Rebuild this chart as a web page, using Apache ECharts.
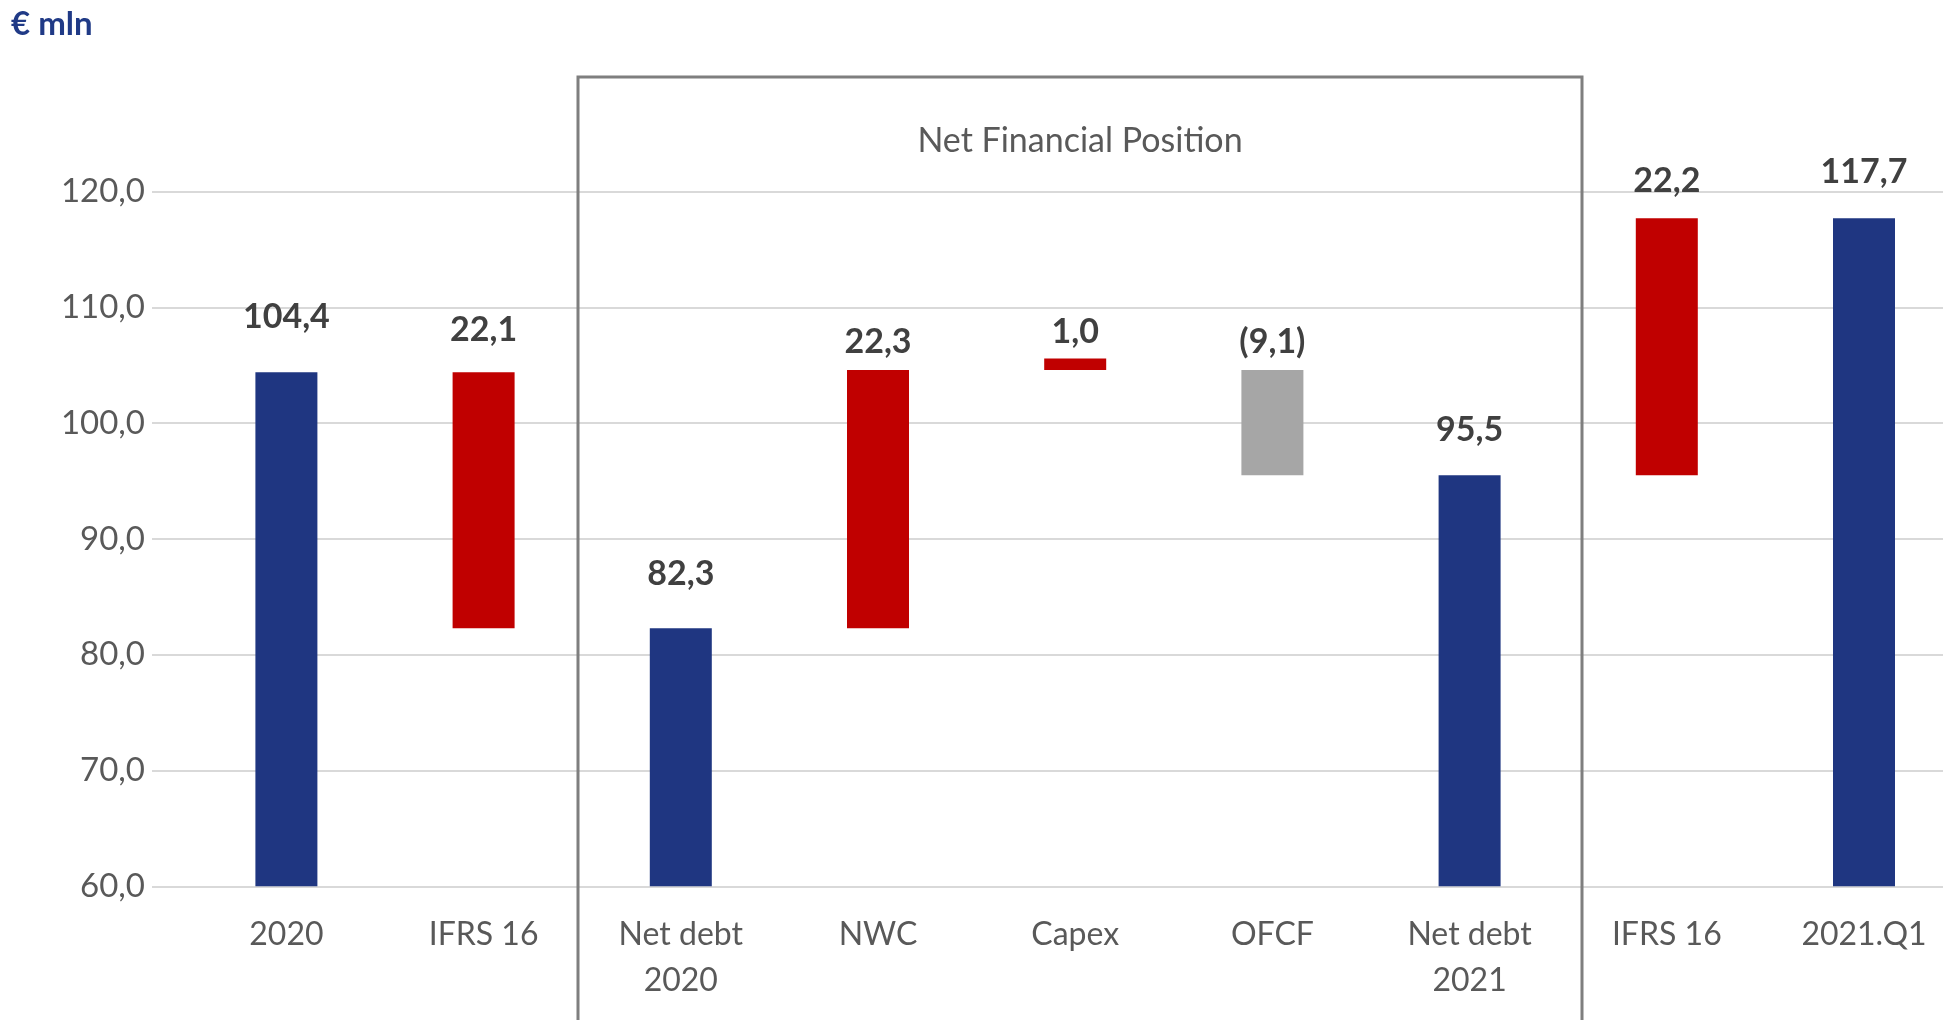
<!DOCTYPE html>
<html>
<head>
<meta charset="utf-8">
<script src="https://cdn.jsdelivr.net/npm/echarts@6/dist/echarts.min.js"></script>
<style>
  html, body { margin: 0; padding: 0; background: #fff; }
  #chart { width: 1943px; height: 1020px; }
</style>
</head>
<body>
<div id="chart"></div>
<script>
// categories of the bridge
const categories = ['2020', 'IFRS 16', 'Net debt\n2020', 'NWC', 'Capex', 'OFCF', 'Net debt\n2021', 'IFRS 16', '2021.Q1']
// label values shown above the bars (negative = shown in brackets)
const values = [104.4, 22.1, 82.3, 22.3, 1.0, -9.1, 95.5, 22.2, 117.7]
// floor and top of every floating bar
const barBase = [0, 82.3, 0, 82.3, 104.6, 95.5, 0, 95.5, 0]
const barTop = [104.4, 104.4, 82.3, 104.6, 105.6, 104.6, 95.5, 117.7, 117.7]
// bar type: total / plus / minus
const kinds = ['total', 'plus', 'total', 'plus', 'plus', 'minus', 'total', 'plus', 'total']
const yTicks = [60, 120, 10]

const kindColor = { total: '#1f3681', plus: '#c00000', minus: '#a6a6a6' }
// distance of each value label from its bar top
const labelGap = [38, 25, 37, 11, 9, 11, 28, 20, 29]
const font = 'Lato'

function fmt (v) {
  const s = Math.abs(v).toFixed(1).replace('.', ',')
  return v < 0 ? '(' + s + ')' : s
}

function genOption () {
  const gridTop = 191.7
  const gridHeight = 694.6
  return {
    backgroundColor: '#fff',
    animation: false,
    title: {
      text: '€ mln',
      left: 11,
      top: 8,
      padding: 0,
      textStyle: { fontFamily: font, fontSize: 33, fontWeight: 'bold', color: '#203a86' }
    },
    grid: [
      // grid only for the value axis and its grid lines
      { left: 152, right: 0, top: gridTop, height: gridHeight, outerBoundsMode: 'none' },
      // grid holding the bars (runs a little past the right edge)
      { left: 187.8, width: 1774.8, top: gridTop, height: gridHeight, outerBoundsMode: 'none' }
    ],
    xAxis: [
      { gridIndex: 0, type: 'value', min: 0, max: 1, show: false },
      {
        gridIndex: 1,
        type: 'category',
        data: categories,
        axisLine: { show: false },
        axisTick: { show: false },
        axisLabel: {
          fontFamily: font,
          fontSize: 32,
          color: '#595959',
          lineHeight: 46,
          margin: 25,
          interval: 0
        }
      }
    ],
    yAxis: [
      {
        gridIndex: 0,
        type: 'value',
        min: yTicks[0],
        max: yTicks[1],
        interval: yTicks[2],
        axisLine: { show: false },
        axisTick: { show: false },
        axisLabel: {
          fontFamily: font,
          fontSize: 33,
          color: '#595959',
          margin: 7,
          formatter: function (v) { return v.toFixed(1).replace('.', ',') }
        },
        splitLine: { lineStyle: { color: '#d9d9d9', width: 2 } }
      },
      {
        gridIndex: 1,
        type: 'value',
        min: yTicks[0],
        max: yTicks[1],
        interval: yTicks[2],
        show: false,
        splitLine: { show: false }
      }
    ],
    graphic: [
      {
        type: 'rect',
        shape: { x: 578, y: 77, width: 1004, height: 1000 },
        style: { fill: 'none', stroke: '#7f7f7f', lineWidth: 3 },
        z: 10
      },
      {
        type: 'text',
        x: 1080,
        y: 141,
        style: {
          text: 'Net Financial Position',
          fontFamily: font,
          fontSize: 34,
          fill: '#595959',
          align: 'center',
          verticalAlign: 'middle'
        },
        z: 10
      }
    ],
    series: [
      {
        type: 'bar',
        xAxisIndex: 1,
        yAxisIndex: 1,
        stack: 'wf',
        barWidth: 62,
        silent: true,
        itemStyle: { color: 'transparent' },
        data: barBase
      },
      {
        type: 'bar',
        xAxisIndex: 1,
        yAxisIndex: 1,
        stack: 'wf',
        barWidth: 62,
        data: barTop.map(function (t, i) {
          return {
            value: +(t - barBase[i]).toFixed(1),
            itemStyle: { color: kindColor[kinds[i]] },
            label: { distance: labelGap[i] }
          }
        }),
        label: {
          show: true,
          position: 'top',
          fontFamily: font,
          fontSize: 34,
          fontWeight: 'bold',
          color: '#404040',
          formatter: function (p) { return fmt(values[p.dataIndex]) }
        }
      }
    ]
  }
}

const chart = echarts.init(document.getElementById('chart'))
chart.setOption(genOption())
</script>
</body>
</html>
